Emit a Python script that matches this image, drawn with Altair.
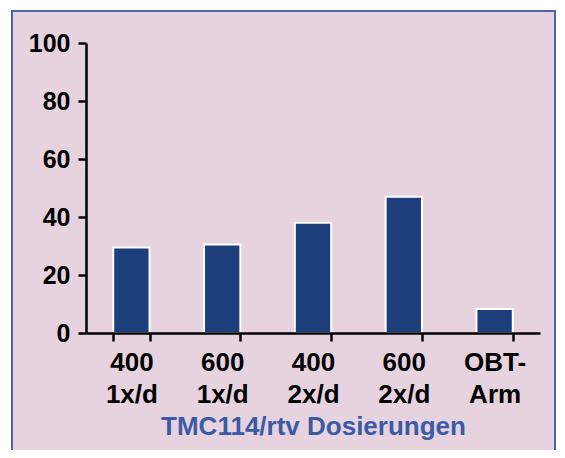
import altair as alt
import pandas as pd

categories = ["400 1x/d", "600 1x/d", "400 2x/d", "600 2x/d", "OBT- Arm"]
values = [29.5, 30.5, 38, 47, 8.3]
y_ticks = [0, 20, 40, 60, 80, 100]
x_title = "TMC114/rtv Dosierungen"

df = pd.DataFrame({"cat": categories, "val": values})
frame_df = pd.DataFrame({"k": [0]})

FONT = "Liberation Sans"
PINK = "#E6D3DF"

frame = alt.Chart(frame_df).mark_rect(
    fill=PINK, stroke="#4F62AA", strokeWidth=2, clip=False
).encode(
    x=alt.value(-74), x2=alt.value(469),
    y=alt.value(-32), y2=alt.value(480),
)

bars = alt.Chart(df).mark_bar(
    color="#1C3F7B", stroke="white", strokeWidth=2
).encode(
    x=alt.X("cat:N", sort=categories,
            scale=alt.Scale(paddingInner=0.6, paddingOuter=0.3),
            axis=alt.Axis(
                title=x_title, labelExpr="split(datum.label, ' ')",
                labelAngle=0, labelFont=FONT, labelFontSize=26,
                labelFontWeight="bold", labelColor="black",
                labelLineHeight=32, labelPadding=8, labelBaseline="top",
                tickBand="extent", tickSize=8, tickWidth=2.5, tickColor="black",
                domainColor="black", domainWidth=2.5,
                titleFont=FONT, titleFontSize=26, titleFontWeight="bold",
                titleColor="#3D5AA5", titlePadding=6, zindex=2,
            )),
    y=alt.Y("val:Q", scale=alt.Scale(domain=[0, 100], nice=False),
            axis=alt.Axis(
                title=None, values=y_ticks, grid=False,
                labelFont=FONT, labelFontSize=25, labelFontWeight="bold",
                labelColor="black", labelPadding=8,
                tickSize=8, tickWidth=2.5, tickColor="black",
                domainColor="black", domainWidth=2.5, zindex=2,
            )),
)

chart = alt.layer(frame, bars).properties(
    width=454, height=290,
    padding={"left": 78, "top": 35, "right": 17, "bottom": 117},
    autosize=alt.AutoSizeParams(type="none"),
    background="white",
).configure_view(stroke=None)

chart.save("out.html", embed_options={"renderer": "svg", "actions": False})
